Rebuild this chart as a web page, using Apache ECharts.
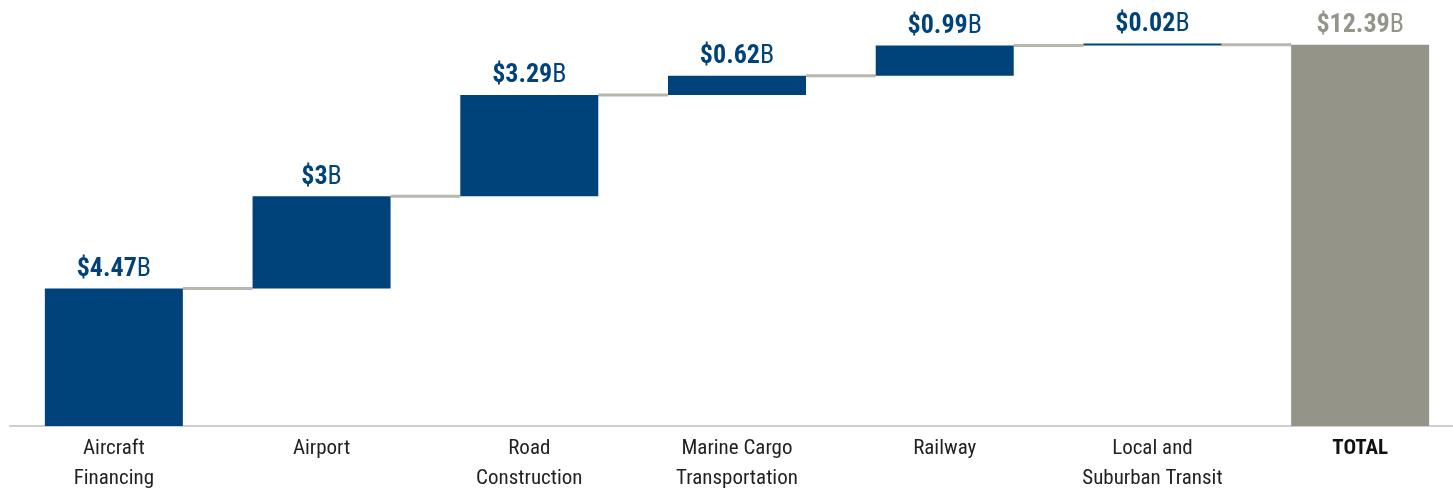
<!DOCTYPE html>
<html>
<head>
<meta charset="utf-8">
<script src="https://cdn.jsdelivr.net/npm/echarts@6/dist/echarts.min.js"></script>
<style>
  html, body { margin: 0; padding: 0; background: #fff; }
  #chart { width: 1453px; height: 488px; }
</style>
</head>
<body>
<div id="chart"></div>
<script>
const categories = ['Aircraft\nFinancing', 'Airport', 'Road\nConstruction', 'Marine Cargo\nTransportation', 'Railway', 'Local and\nSuburban Transit', 'TOTAL'];
const values = [4.47, 3, 3.29, 0.62, 0.99, 0.02];
const total = 12.39;

const FONT = '"Liberation Sans Narrow", "Roboto Condensed", Roboto, sans-serif';
const BLUE = '#00437a';
const GREY = '#959489';

// running base for each step
const bases = [];
let run = 0;
values.forEach(v => { bases.push(run); run += v; });
bases.push(0);
const heights = values.concat([total]);
const tops = bases.map((b, i) => b + heights[i]);

const chart = echarts.init(document.getElementById('chart'));

chart.setOption({
  animation: false,
  grid: { left: 10, width: 1454, top: 26, bottom: 62, outerBoundsMode: 'none', containLabel: false },
  xAxis: {
    type: 'category',
    data: categories,
    axisLine: { lineStyle: { color: '#cfcfcb', width: 2 } },
    axisTick: { show: false },
    axisLabel: {
      interval: 0,
      fontFamily: FONT,
      fontSize: 21,
      color: '#222',
      lineHeight: 30,
      margin: 8,
      formatter: v => v === 'TOTAL' ? '{t|' + v + '}' : v,
      rich: { t: { fontWeight: 'bold', fontSize: 21, fontFamily: FONT, color: '#111' } }
    }
  },
  yAxis: { type: 'value', min: 0, max: 13, show: false, splitLine: { show: false } },
  series: [
    {
      type: 'bar', stack: 'w', barWidth: 138, silent: true,
      itemStyle: { color: 'transparent' },
      data: bases
    },
    {
      type: 'bar', stack: 'w', barWidth: 138, barMinHeight: 2,
      data: heights.map((h, i) => ({
        value: h,
        itemStyle: { color: i === heights.length - 1 ? GREY : BLUE },
        label: i === heights.length - 1 ? { rich: { b: { color: GREY }, n: { color: GREY } } } : undefined
      })),
      label: {
        show: true,
        position: 'top',
        distance: 6,
        formatter: p => '{b|$' + p.value + '}{n|B}',
        rich: {
          b: { fontFamily: FONT, fontWeight: 'bold', fontSize: 26, color: BLUE },
          n: { fontFamily: FONT, fontSize: 26, color: BLUE }
        }
      }
    },
    {
      type: 'custom',
      silent: true,
      z: 1,
      data: tops.slice(0, tops.length - 1).map((t, i) => [i, t]),
      renderItem: (params, api) => {
        const i = api.value(0);
        const a = api.coord([i, api.value(1)]);
        const b = api.coord([i + 1, api.value(1)]);
        const half = 69;
        return {
          type: 'line',
          shape: { x1: a[0] + half, y1: a[1], x2: b[0] - half, y2: a[1] },
          style: { stroke: '#b8b7ae', lineWidth: 3 }
        };
      }
    }
  ]
});
</script>
</body>
</html>
